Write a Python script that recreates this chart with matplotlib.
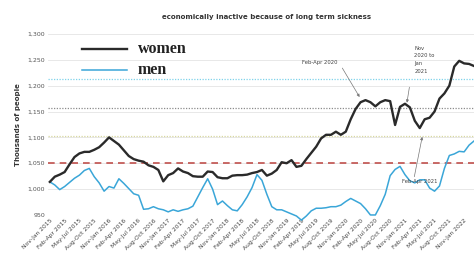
import matplotlib
matplotlib.use("Agg")
import matplotlib.pyplot as plt
import numpy as np

women = [1014, 1024, 1028, 1033, 1048, 1062, 1069, 1072, 1072, 1076, 1081, 1090, 1100, 1093,
         1086, 1075, 1064, 1058, 1055, 1053, 1046, 1043, 1037, 1015, 1027, 1031, 1040, 1034,
         1031, 1025, 1024, 1024, 1034, 1033, 1023, 1021, 1021, 1026, 1027, 1027, 1028, 1031,
         1033, 1037, 1026, 1030, 1037, 1052, 1050, 1056, 1043, 1045, 1058, 1070, 1082, 1098,
         1105, 1105, 1111, 1105, 1111, 1135, 1155, 1168, 1172, 1168, 1160, 1168, 1172, 1170,
         1124, 1159, 1165, 1158, 1132, 1118, 1135, 1138, 1150, 1175, 1185, 1200, 1237, 1248,
         1243, 1242, 1238]
men = [1014, 1008, 999, 1005, 1013, 1021, 1027, 1036, 1040, 1024, 1012, 996, 1005, 1002,
       1020, 1011, 1001, 991, 988, 961, 962, 966, 962, 960, 956, 960, 957, 960, 962, 967,
       985, 1003, 1020, 1000, 970, 977, 968, 960, 958, 970, 985, 1003, 1028, 1017, 990, 966,
       960, 960, 956, 952, 948, 940, 948, 958, 963, 963, 964, 966, 966, 969, 976, 982, 977,
       972, 962, 950, 950, 968, 990, 1026, 1038, 1044, 1028, 1016, 1012, 1018, 1018, 1002,
       996, 1006, 1040, 1065, 1068, 1073, 1072, 1085, 1093]
ref_levels = [1213, 1157, 1103, 1050]
ref_colors = ["#7fd3ea", "#8c8c8c", "#d8d8a0", "#c0504d"]
ref_styles = [(0, (1, 1.2)), (0, (1, 1.2)), (0, (1, 1.2)), (0, (4, 3))]

seasons = ["Nov-Jan", "Feb-Apr", "May-Jul", "Aug-Oct"]
tick_labels = [f"{seasons[k % 4]} {2015 + k // 4}" for k in range(29)]
yticks = [950, 1000, 1050, 1100, 1150, 1200, 1250, 1300]

fig = plt.figure(figsize=(4.74, 2.59), dpi=100)
ax = fig.add_axes([0.101, 0.170, 0.899, 0.699])
x = np.arange(len(women))

for yv in yticks:
    ax.axhline(yv, color="#e4e4e4", lw=0.6, zorder=0)
for lv, c, ls in zip(ref_levels, ref_colors, ref_styles):
    ax.axhline(lv, color=c, lw=1.2 if c == "#c0504d" else 0.9, ls=ls, zorder=1)

ax.plot(x, men, color="#3aa6d8", lw=1.1, zorder=3, clip_on=False)
ax.plot(x, women, color="#2a2a2a", lw=1.7, zorder=4, clip_on=False)

ax.set_xlim(-0.4, 86)
ax.set_ylim(950, 1300)
ax.set_yticks(yticks)
ax.set_yticklabels([f"{v:,}" for v in yticks], fontsize=4.5, color="#555555")
ax.set_xticks(x[::3][:29])
ax.set_xticklabels(tick_labels, rotation=45, ha="right", rotation_mode="anchor",
                   fontsize=4.3, color="#444444")
ax.tick_params(length=0, pad=2)
for s in ax.spines.values():
    s.set_visible(False)
ax.set_ylabel("Thousands of people", fontsize=5, fontweight="bold", color="#333333", labelpad=5)

fig.text(0.562, 0.935, "economically inactive because of long term sickness", ha="center",
         va="center", fontsize=5, fontweight="bold", color="#333333")

# legend
ax.plot([6.5, 15.7], [1271, 1271], color="#2a2a2a", lw=1.7, clip_on=False)
ax.text(17.8, 1271, "women", fontsize=11.5, fontweight="bold", family="Liberation Serif",
        va="center", color="#222222")
ax.plot([6.5, 15.7], [1231, 1231], color="#3aa6d8", lw=1.1, clip_on=False)
ax.text(17.8, 1231, "men", fontsize=11.5, fontweight="bold", family="Liberation Serif",
        va="center", color="#222222")

arrow = dict(arrowstyle="-|>", color="#777777", lw=0.5, mutation_scale=4,
             shrinkA=0, shrinkB=0)
ax.text(51.2, 1244, "Feb-Apr 2020", fontsize=3.8, color="#444444", ha="left", va="center")
ax.annotate("", xy=(62.8, 1178), xytext=(59.3, 1234), arrowprops=arrow)
ax.text(73.9, 1250, "Nov\n2020 to\nJan\n2021", fontsize=3.8, color="#444444", ha="left",
        va="center", linespacing=1.7)
ax.annotate("", xy=(72.4, 1167), xytext=(72.9, 1197), arrowprops=arrow)
ax.text(71.5, 1015, "Feb-Apr 2021", fontsize=3.8, color="#444444", ha="left", va="center")
ax.annotate("", xy=(75.5, 1101), xytext=(73.9, 1024), arrowprops=arrow)

fig.savefig("out.png", dpi=100)
